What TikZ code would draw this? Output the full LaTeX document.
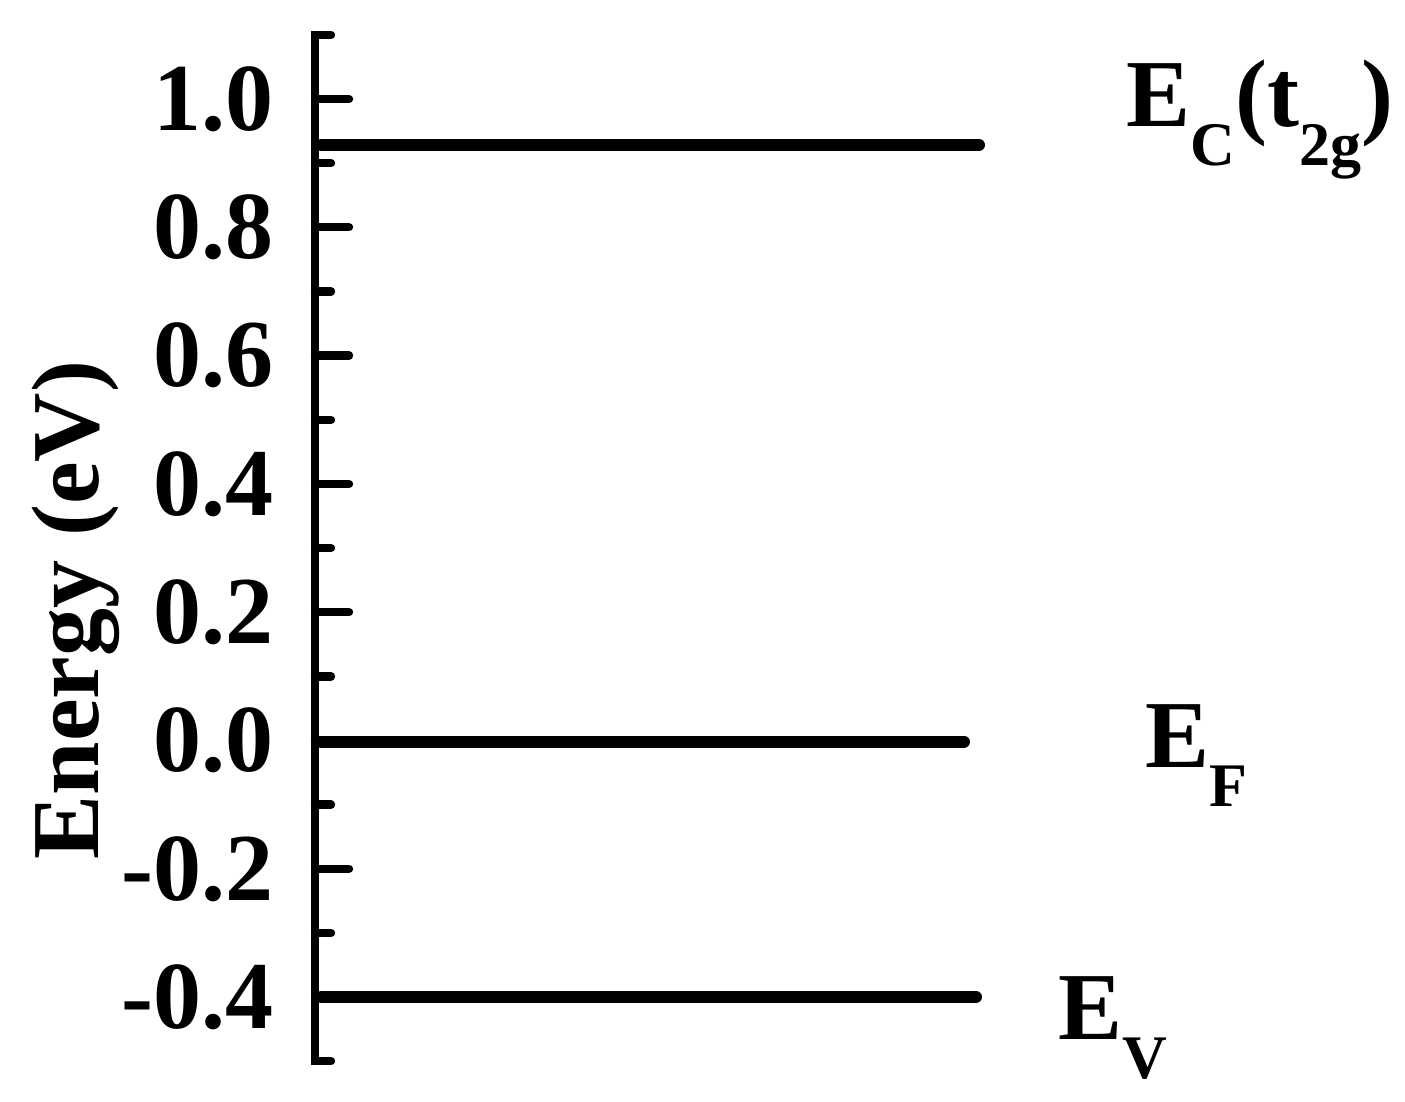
\documentclass[tikz,border=0pt]{standalone}
\usepackage{fontspec}
\setmainfont{Liberation Serif}
\newcommand{\subsc}[1]{\lower19.5pt\hbox{\fontsize{31}{31}\selectfont\bfseries #1}}
\begin{document}
\begin{tikzpicture}[x=0.5pt,y=-0.5pt,
  axisline/.style={line width=4.2pt,line cap=round,line join=miter},
  level/.style={line width=6pt,line cap=round},
  ticklab/.style={anchor=east,inner sep=0pt,font=\fontsize{48}{48}\selectfont\bfseries},
  elab/.style={anchor=base west,inner sep=0pt,font=\fontsize{48}{48}\selectfont\bfseries}]
\useasboundingbox (0,0) rectangle (1405,1102);
\fill[white] (0,0) rectangle (1405,1102);
% axis
\coordinate (topL) at (315,{740.5-641.5*1.1});
\coordinate (botL) at (315,{740.5+641.5*0.5});
\draw[axisline] (331,{740.5-641.5*1.1}) -- (topL) -- (botL) -- (331,{740.5+641.5*0.5});
% major ticks and labels
\foreach \v/\t in {1.0/1.0,0.8/0.8,0.6/0.6,0.4/0.4,0.2/0.2,0.0/0.0,-0.2/-0.2,-0.4/-0.4}{
  \draw[axisline] (315,{740.5-641.5*\v}) -- (349,{740.5-641.5*\v});
  \node[ticklab] at (274,{740.5-641.5*\v}) {\t};
}
% minor ticks
\foreach \v in {0.9,0.7,0.5,0.3,0.1,-0.1,-0.3}{
  \draw[axisline] (315,{740.5-641.5*\v}) -- (331,{740.5-641.5*\v});
}
% levels
\coordinate (ECa) at (321,145);
\coordinate (ECb) at (979,145);
\coordinate (EFa) at (321,741.5);
\coordinate (EFb) at (964,741.5);
\coordinate (EVa) at (321,997);
\coordinate (EVb) at (976,997);
\draw[level] (ECa) -- (ECb);
\draw[level] (EFa) -- (EFb);
\draw[level] (EVa) -- (EVb);
% level labels
\node[elab] (labEC) at (1126,127) {E\subsc{C}(t\subsc{2g})};
\node[elab] (labEF) at (1145,767) {E\subsc{F}};
\node[elab] (labEV) at (1058,1039) {E\subsc{V}};
% y label
\node[rotate=90,anchor=base,inner sep=0pt,font=\fontsize{48}{48}\selectfont\bfseries] (ylab) at (98,610) {Energy (eV)};
\end{tikzpicture}
\end{document}
